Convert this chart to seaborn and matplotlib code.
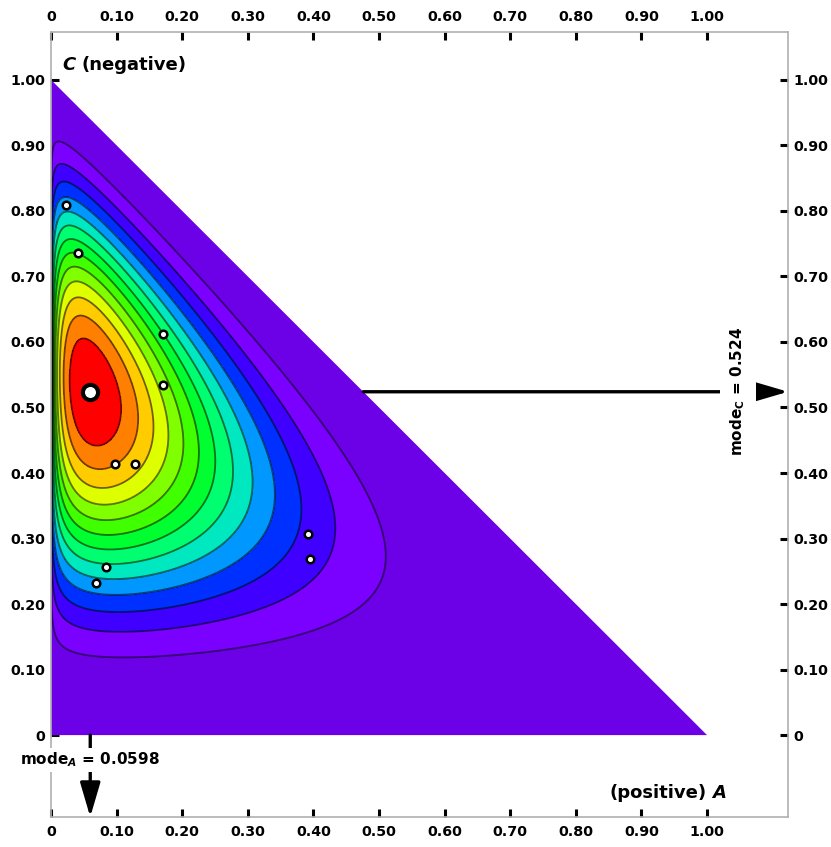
import numpy as np
import pandas as pd
import matplotlib
matplotlib.use('Agg')
import matplotlib.pyplot as plt
import seaborn as sns
from math import lgamma
from matplotlib.patches import Polygon

# Dirichlet parameters for (A, B, C)
alpha = [1.325, 3.264, 3.85]
mode_a = 0.0598
mode_c = 0.524

# observed points (A, C)
pts_a = [0.0224, 0.0416, 0.171, 0.171, 0.097, 0.128, 0.392, 0.395, 0.0838, 0.068]
pts_c = [0.809, 0.736, 0.612, 0.534, 0.414, 0.413, 0.307, 0.269, 0.256, 0.2325]

ticks = [0, 0.1, 0.2, 0.3, 0.4, 0.5, 0.6, 0.7, 0.8, 0.9, 1.0]
tick_labels = ['0', '0.10', '0.20', '0.30', '0.40', '0.50', '0.60', '0.70', '0.80', '0.90', '1.00']

# band colours, low density -> high density
band_colors = ['#6c00e6', '#7a00ff', '#4000ff', '#0030ff', '#0098ff', '#00e8c0', '#00ff70',
               '#00ff30', '#40ff00', '#80ff00', '#ddff00', '#ffcc00', '#ff8000', '#ff0000']

sns.set_style('white')
plt.rcParams['font.family'] = ['DejaVu Sans']
plt.rcParams['font.weight'] = 'bold'
plt.rcParams['text.color'] = 'black'
plt.rcParams['xtick.color'] = 'black'
plt.rcParams['ytick.color'] = 'black'
plt.rcParams['mathtext.fontset'] = 'custom'
plt.rcParams['mathtext.it'] = 'DejaVu Sans:italic:bold'
plt.rcParams['mathtext.rm'] = 'DejaVu Sans:bold'

fig = plt.figure(figsize=(8.31, 8.47), dpi=100)
ax = fig.add_axes([0.0614, 0.0354, 0.8869, 0.9268])

# density on a grid
g = np.linspace(0, 1, 801)
X, Y = np.meshgrid(g, g)
Bv = 1 - X - Y
ok = (X > 0) & (Y > 0) & (Bv > 0)
logb = sum(lgamma(a) for a in alpha) - lgamma(sum(alpha))
Z = np.zeros_like(X)
Z[ok] = np.exp((alpha[0] - 1) * np.log(X[ok]) + (alpha[1] - 1) * np.log(Bv[ok])
               + (alpha[2] - 1) * np.log(Y[ok]) - logb)

zmax = Z.max()
inner = list(np.linspace(0, zmax, len(band_colors) + 1)[1:-1])
levels = [-1] + inner + [zmax + 1]

tri = Polygon([[0, 0], [1, 0], [0, 1]], closed=True, transform=ax.transData,
              fill=False, lw=0)
ax.add_patch(tri)
cf = ax.contourf(X, Y, Z, levels=levels, colors=band_colors)
cf.set_clip_path(tri)
cl = ax.contour(X, Y, Z, levels=inner, colors='black', linewidths=1.3, alpha=0.55)
cl.set_clip_path(tri)

df = pd.DataFrame({'A': pts_a, 'C': pts_c})
sns.scatterplot(data=df, x='A', y='C', ax=ax, s=30, color='white',
                edgecolor='black', linewidth=1.8, zorder=5)
sns.scatterplot(x=[mode_a], y=[mode_c], ax=ax, s=120, color='white',
                edgecolor='black', linewidth=3, zorder=6)

xmax = 1.1235
ymin, ymax = -0.125, 1.073

# mode arrows
arrow = dict(arrowstyle='-|>,head_length=0.75,head_width=0.22', mutation_scale=28,
             lw=2.4, color='black', shrinkA=0, shrinkB=0)
ax.annotate('', xy=(mode_a, ymin), xytext=(mode_a, 0), arrowprops=arrow,
            zorder=4, annotation_clip=False)
ax.text(mode_a, -0.038, r'mode$_{A}$ = 0.0598', ha='center', va='center',
        fontsize=11, zorder=7,
        bbox=dict(facecolor='white', edgecolor='none', pad=2))
ax.annotate('', xy=(xmax, mode_c), xytext=(1 - mode_c, mode_c), arrowprops=arrow,
            zorder=4, annotation_clip=False)
ax.text(1.047, mode_c, r'mode$_{\mathrm{C}}$ = 0.524', ha='center', va='center',
        rotation=90, fontsize=11, zorder=7,
        bbox=dict(facecolor='white', edgecolor='none', pad=6))

# axis titles
ax.text(0.017, 1.023, 'C', fontsize=13, style='italic', fontweight='bold', va='center')
ax.text(0.046, 1.023, '(negative)', fontsize=13, fontweight='bold', va='center')
ax.text(0.852, -0.0886, '(positive)', fontsize=13, fontweight='bold', va='center')
ax.text(1.008, -0.0886, 'A', fontsize=13, style='italic', fontweight='bold', va='center')

ax.set_xlim(0, xmax)
ax.set_ylim(ymin, ymax)
ax.set_xticks(ticks)
ax.set_xticklabels(tick_labels)
ax.set_yticks(ticks)
ax.set_yticklabels(tick_labels)
ax.set_xlabel('')
ax.set_ylabel('')
ax.tick_params(axis='both', direction='in', length=6, width=2.2, color='black',
               labelsize=10.3, top=True, bottom=True, left=True, right=True,
               labeltop=True, labelbottom=True, labelleft=True, labelright=True)
ax.tick_params(axis='x', pad=6)
ax.tick_params(axis='y', pad=4)
for s in ax.spines.values():
    s.set_color('#b0b0b0')
    s.set_linewidth(1.2)

fig.savefig('out.png', dpi=100)
